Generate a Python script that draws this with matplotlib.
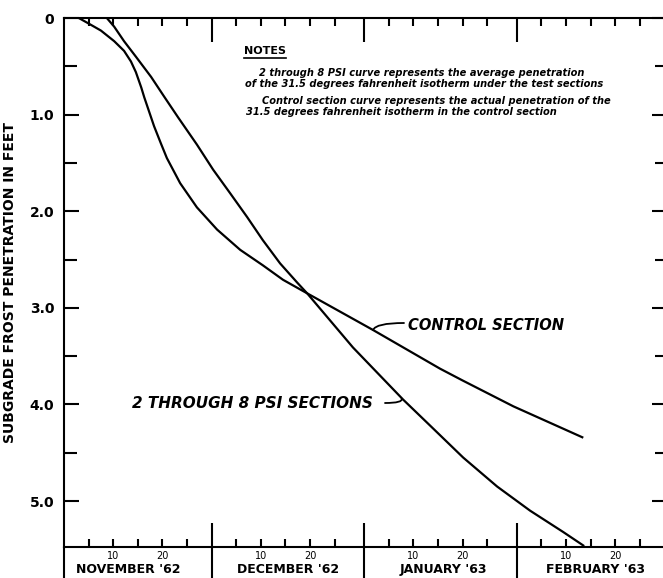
import numpy as np
import matplotlib
matplotlib.use('Agg')
import matplotlib.pyplot as plt
from matplotlib.ticker import FixedLocator, FixedFormatter
from matplotlib.lines import Line2D
from matplotlib.transforms import IdentityTransform

# x = days counted from 31 Oct 1962 (so "Nov 10" -> 10, "Dec 10" -> 40 ...)
month_names = ["NOVEMBER '62", "DECEMBER '62", "JANUARY '63", "FEBRUARY '63"]
month_start = [0, 30, 61, 92]
month_label_x = [13, 45.5, 77, 108]

# control section, 31.5 F isotherm depth (ft)
control_day = [3.0, 5.1, 7.5, 10.2, 12.2, 13.6, 14.6, 15.7, 16.3, 17.3, 18.3, 19.7,
               20.9, 23.6, 27.0, 31.1, 35.8, 40.4, 44.5, 49.4, 62.8, 76.4, 80.9,
               91.3, 105.3]
control_ft = [0.0, 0.06, 0.13, 0.24, 0.34, 0.45, 0.56, 0.72, 0.82, 0.97, 1.12, 1.30,
              1.45, 1.71, 1.96, 2.19, 2.40, 2.56, 2.71, 2.85, 3.23, 3.63, 3.75,
              4.02, 4.34]

# 2 through 8 psi sections, average depth (ft)
psi_day = [8.7, 10.2, 12.2, 14.6, 17.7, 20.3, 23.2, 27.0, 30.3, 33.7, 37.2, 40.4,
           43.9, 47.4, 49.4, 58.7, 68.9, 74.4, 81.1, 88.0, 94.7, 101.4, 105.5]
psi_ft = [0.0, 0.09, 0.24, 0.40, 0.61, 0.81, 1.03, 1.31, 1.57, 1.81, 2.06, 2.30,
          2.54, 2.74, 2.85, 3.41, 3.95, 4.22, 4.55, 4.85, 5.10, 5.32, 5.46]

y_major = [0, 1, 2, 3, 4, 5]
y_major_labels = ['0', '1.0', '2.0', '3.0', '4.0', '5.0']
y_minor = [0.5, 1.5, 2.5, 3.5, 4.5]

notes = [
    "2 through 8 PSI curve represents the average penetration",
    "of the 31.5 degrees fahrenheit isotherm under the test sections",
    "Control section curve represents the actual penetration of the",
    "31.5 degrees fahrenheit isotherm in the control section",
]

W, H = 663, 578
fig = plt.figure(figsize=(W / 100, H / 100), dpi=100)
ax = fig.add_axes([64 / W, 1 - 547 / H, 1 - 64 / W, (547 - 18) / H])

ax.plot(control_day, control_ft, color='black', lw=1.6, solid_joinstyle='round')
ax.plot(psi_day, psi_ft, color='black', lw=1.6, solid_joinstyle='round')

ax.set_xlim(0, 121.7)
ax.set_ylim(5.476, 0)

for s in ['left', 'top', 'bottom']:
    ax.spines[s].set_linewidth(1.5)
ax.spines['right'].set_visible(False)

# y axis
ax.set_yticks(y_major)
ax.set_yticklabels(y_major_labels, fontweight='bold', fontsize=10)
ax.yaxis.set_minor_locator(FixedLocator(y_minor))
ax.tick_params(axis='y', which='major', direction='in', length=11, width=1.5, pad=7)
ax.tick_params(axis='y', which='minor', direction='in', length=9, width=1.5)
ax.set_ylabel('SUBGRADE FROST PENETRATION IN FEET', fontweight='bold', fontsize=10)
ax.yaxis.set_label_coords(-0.078, 0.5)

sec = ax.secondary_yaxis('right')
sec.set_yticks(y_major)
sec.yaxis.set_minor_locator(FixedLocator(y_minor))
sec.tick_params(which='major', direction='in', length=8, width=1.5, labelright=False)
sec.tick_params(which='minor', direction='in', length=6, width=1.5)
sec.spines['right'].set_visible(False)

# x axis: month boundaries (major) and every 5 days (minor)
minor_pos, minor_lab = [], []
for m in month_start:
    for d in [5, 10, 15, 20, 25]:
        minor_pos.append(m + d)
        minor_lab.append(str(d) if d in (10, 20) else '')
ax.xaxis.set_major_locator(FixedLocator(month_start[1:]))
ax.xaxis.set_major_formatter(FixedFormatter(['', '', '']))
ax.xaxis.set_minor_locator(FixedLocator(minor_pos))
ax.xaxis.set_minor_formatter(FixedFormatter(minor_lab))
ax.tick_params(axis='x', which='major', direction='in', length=17, width=1.5,
               top=True, bottom=True)
ax.tick_params(axis='x', which='minor', direction='in', length=6, width=1.5,
               top=True, bottom=True, labelsize=7, pad=3)

# month separators running down through the labels
ax.vlines([0] + month_start[1:], 5.476, 5.95, color='black', lw=1.5, clip_on=False)
for name, x in zip(month_names, month_label_x):
    ax.text(x, 5.71, name, ha='center', va='center', fontweight='bold', fontsize=9,
            clip_on=False)

# notes
t_notes = fig.text(244 / W, 1 - 51 / H, 'NOTES', fontweight='bold', fontsize=8,
                   va='center', ha='left')
note_xy = [(259, 73), (245, 84), (262, 101), (246, 112)]
for txt, (px, py) in zip(notes, note_xy):
    fig.text(px / W, 1 - py / H, txt, fontsize=7.1, fontweight='bold', style='italic',
             va='center', ha='left')

# curve labels with short curled leaders
fig.text(408 / W, 1 - 325 / H, 'CONTROL SECTION', ha='left', va='center',
         fontsize=10.6, fontweight='bold', style='italic')
fig.text(132 / W, 1 - 403 / H, '2 THROUGH 8 PSI SECTIONS', ha='left', va='center',
         fontsize=11, fontweight='bold', style='italic')
ax.annotate('', xy=(62.8, 3.23), xytext=(404 / W, 1 - 323 / H),
            textcoords='figure fraction',
            arrowprops=dict(arrowstyle='-', lw=1.3, shrinkA=0, shrinkB=0,
                            connectionstyle='angle3,angleA=180,angleB=70'))
ax.annotate('', xy=(68.6, 3.94), xytext=(385 / W, 1 - 403 / H),
            textcoords='figure fraction',
            arrowprops=dict(arrowstyle='-', lw=1.3, shrinkA=0, shrinkB=0,
                            connectionstyle='angle3,angleA=0,angleB=110'))

fig.canvas.draw()
bb = t_notes.get_window_extent()
fig.add_artist(Line2D([bb.x0, bb.x1], [bb.y0 - 2, bb.y0 - 2], color='black', lw=1.2,
                      transform=IdentityTransform()))

fig.savefig('out.png', dpi=100)
